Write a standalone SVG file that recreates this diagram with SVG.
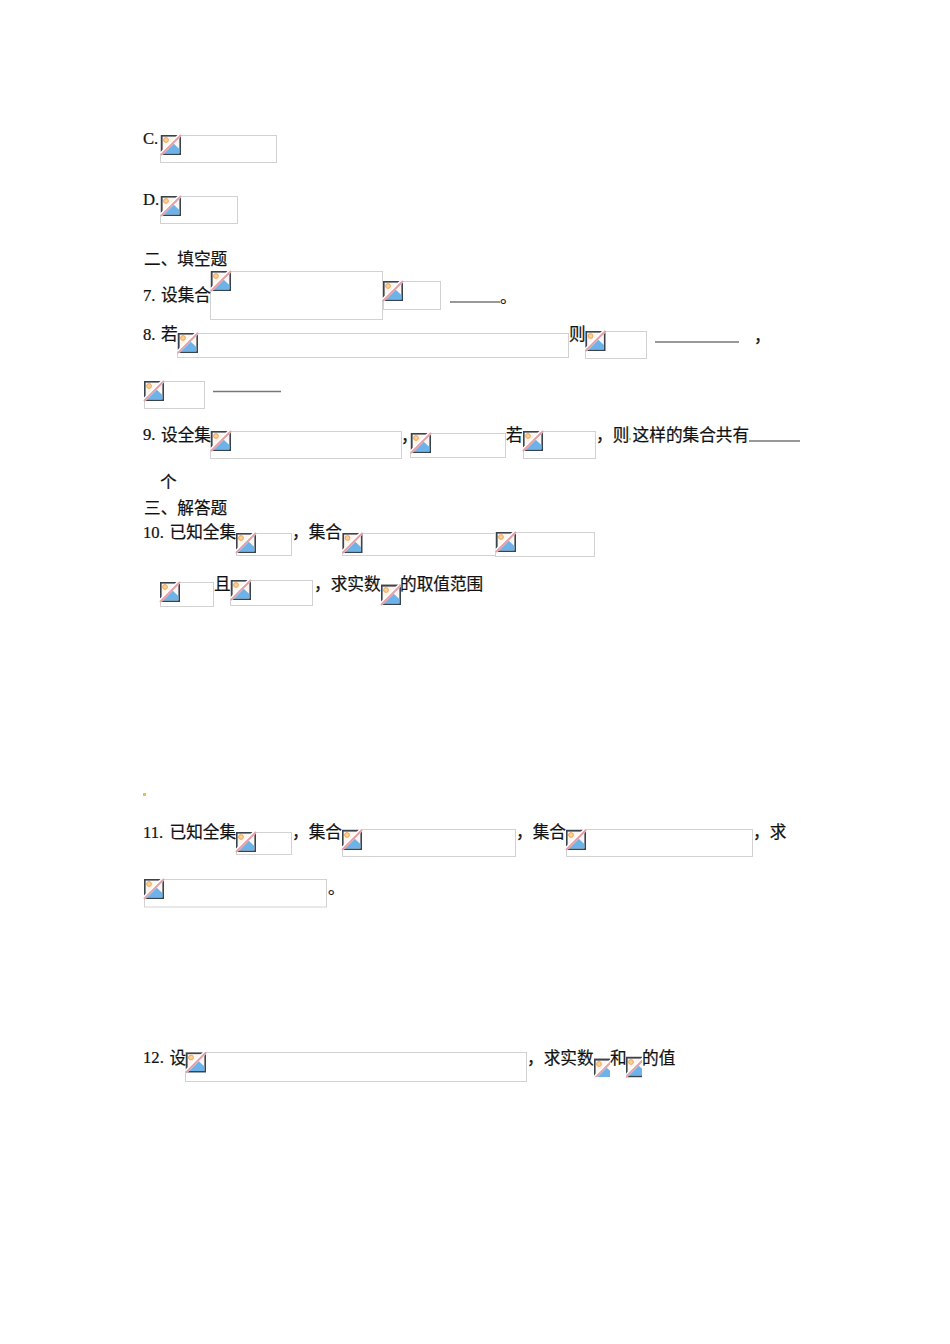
<svg xmlns="http://www.w3.org/2000/svg" width="950" height="1344" viewBox="0 0 950 1344">
<style>
text{font-family:"Liberation Serif","Noto Sans CJK SC",serif;font-size:16.65px;fill:#111;stroke:#111;stroke-width:.22px}
.b{fill:#fff;stroke:#d2d2d2;stroke-width:1}
.u{stroke:#777;stroke-width:1.500;fill:none}
.t{stroke:#aaa;stroke-width:1;fill:none}
</style>
<defs>
<g id="i">
<rect x="0.800" y="0.800" width="18.400" height="18.400" fill="#fdf6f0" stroke="#38444d" stroke-width="1.600"/>
<circle cx="5" cy="5" r="2.400" fill="#f8d09a" stroke="#eea85a" stroke-width="1"/>
<path d="M2 18.400 L12 8 L18.400 14 V18.400Z" fill="#6db3ea"/>
<path d="M0 19 L19 0" stroke="#fff" stroke-width="3.500"/>
<path d="M0 20 L20 0" stroke="#e2a0a8" stroke-width="2"/>
</g>
</defs>
<rect width="950" height="1344" fill="#fff"/>
<g id="connectors"/>
<g id="images">
<g id="n1"><rect class="b" x="160.500" y="135.500" width="116" height="27"/><use href="#i" x="161" y="135"/></g>
<g id="n2"><rect class="b" x="160.500" y="196.500" width="77" height="27"/><use href="#i" x="161" y="196"/></g>
<g id="n3"><rect class="b" x="210.500" y="271.500" width="172" height="48"/><use href="#i" x="211" y="271"/></g>
<g id="n4"><rect class="b" x="383.500" y="281.500" width="57" height="28"/><use href="#i" x="383" y="281"/></g>
<g id="n5"><rect class="b" x="177.500" y="333.500" width="391" height="24"/><use href="#i" x="178" y="333"/></g>
<g id="n6"><rect class="b" x="585.500" y="331.500" width="61" height="27"/><use href="#i" x="585.500" y="331"/></g>
<g id="n7"><rect class="b" x="144.500" y="381.500" width="60" height="27"/><use href="#i" x="144" y="381"/></g>
<g id="n8"><rect class="b" x="210.500" y="431.500" width="191" height="27"/><use href="#i" x="211" y="431"/></g>
<g id="n9"><rect class="b" x="410.500" y="433.500" width="95" height="24"/><use href="#i" x="411" y="433"/></g>
<g id="n10"><rect class="b" x="523.500" y="431.500" width="72" height="27"/><use href="#i" x="523" y="431"/></g>
<g id="n11"><rect class="b" x="236.500" y="533.500" width="55" height="22"/><use href="#i" x="236" y="533"/></g>
<g id="n12"><rect class="b" x="342.500" y="533.500" width="153" height="22"/><use href="#i" x="342.500" y="533"/></g>
<g id="n13"><rect class="b" x="495.500" y="532.500" width="99" height="24"/><use href="#i" x="496" y="532"/></g>
<g id="n14"><rect class="b" x="160.500" y="582.500" width="53" height="24"/><use href="#i" x="160" y="582"/></g>
<g id="n15"><rect class="b" x="230.500" y="580.500" width="82" height="25"/><use href="#i" x="231" y="580"/></g>
<g id="n16"><path class="t" d="M381 584.500H400"/><use href="#i" x="381" y="585"/></g>
<g id="n17"><rect class="b" x="236.500" y="832.500" width="55" height="22"/><use href="#i" x="236" y="832"/></g>
<g id="n18"><rect class="b" x="342.500" y="829.500" width="173" height="27"/><use href="#i" x="342" y="830"/></g>
<g id="n19"><rect class="b" x="566.500" y="829.500" width="186" height="27"/><use href="#i" x="566" y="830"/></g>
<g id="n20"><rect class="b" x="144.500" y="879.500" width="182" height="27.500"/><use href="#i" x="144" y="879"/></g>
<g id="n21"><rect class="b" x="185.500" y="1052.500" width="341" height="29"/><use href="#i" x="186" y="1052.500"/></g>
<g id="n22"><path class="t" d="M594 1058.500H610"/><svg x="594" y="1059" width="16" height="18" viewBox="0 0 16 18"><use href="#i"/></svg></g>
<g id="n23"><rect class="b" x="626.500" y="1056.500" width="15" height="21"/><svg x="626" y="1057" width="16" height="20" viewBox="0 0 16 20"><use href="#i"/></svg></g>
</g>
<g id="rules">
<path class="u" d="M450 302H500M655 342H739M213 391.500H281M749 441H800"/>
</g>
<rect x="143" y="793" width="3" height="3" fill="#e6c04f"/>
<rect x="629" y="438" width="2" height="2" fill="#e6c04f"/>
<g id="labels">
<text x="143" y="144">C.</text>
<text x="143" y="205">D.</text>
<text x="144" y="264.500">二、填空题</text>
<text x="143" y="301">7.</text><text x="161" y="301">设集合</text>
<text x="500" y="303">。</text>
<text x="143" y="340">8.</text><text x="161" y="340">若</text>
<text x="569" y="340">则</text>
<text x="754" y="342">，</text>
<text x="143" y="440">9.</text><text x="161" y="440.500">设全集</text>
<text x="401" y="442">，</text>
<text x="506" y="440.500">若</text>
<text x="596" y="440.500">，则</text><text x="632.600" y="440.500">这样的集合共有</text>
<text x="160" y="488">个</text>
<text x="144" y="513.500">三、解答题</text>
<text x="143" y="538">10.</text><text x="169.500" y="538">已知全集</text>
<text x="292" y="538">，集合</text>
<text x="214" y="590">且</text>
<text x="314" y="590">，求实数</text>
<text x="400" y="590">的取值范围</text>
<text x="143" y="838">11.</text><text x="169.500" y="838">已知全集</text>
<text x="292" y="838">，集合</text>
<text x="516" y="838">，集合</text>
<text x="753" y="838">，求</text>
<text x="328" y="893.500">。</text>
<text x="143" y="1063">12.</text><text x="169.500" y="1063.500">设</text>
<text x="527" y="1063.500">，求实数</text>
<text x="610" y="1063.500">和</text>
<text x="642" y="1063.500">的值</text>
</g>
</svg>
